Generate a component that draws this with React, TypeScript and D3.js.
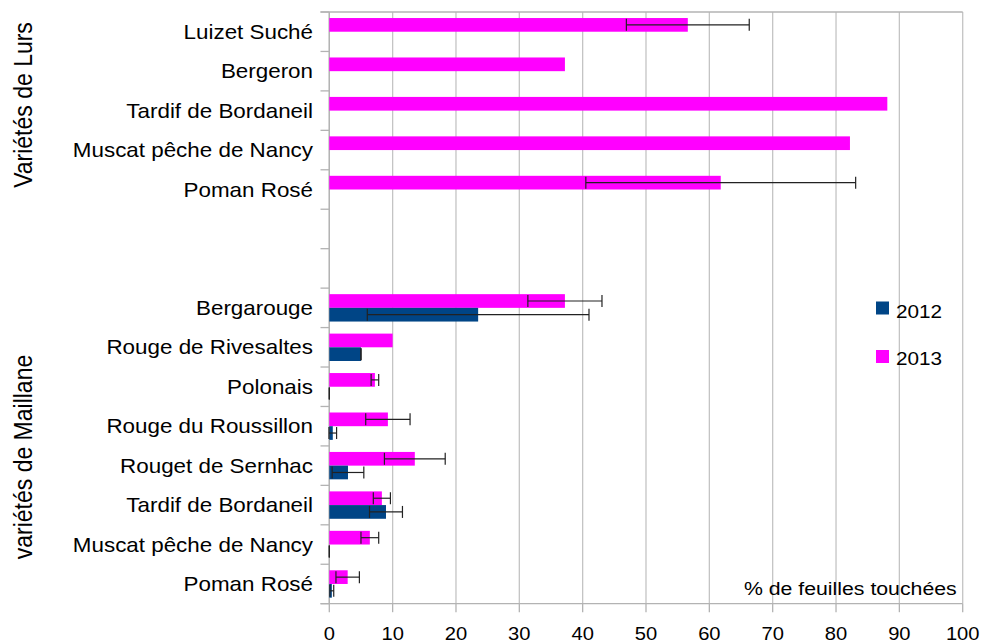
import React from "react";
import * as d3 from "d3";

const lursCategories = ["Luizet Suché", "Bergeron", "Tardif de Bordaneil", "Muscat pêche de Nancy", "Poman Rosé"];
const lurs2013 = [56.6, 37.2, 88.1, 82.2, 61.8];
const lurs2013Err: (number | null)[] = [9.7, null, null, null, 21.3];

const maillaneCategories = [
  "Bergarouge",
  "Rouge de Rivesaltes",
  "Polonais",
  "Rouge du Roussillon",
  "Rouget de Sernhac",
  "Tardif de Bordaneil",
  "Muscat pêche de Nancy",
  "Poman Rosé",
];
const maillane2012 = [23.5, 5.0, 0, 0.55, 2.95, 8.95, 0, 0.4];
const maillane2012Err: (number | null)[] = [17.5, 0, 0, 0.6, 2.5, 2.6, 0, 0.3];
const maillane2013 = [37.2, 10.0, 7.2, 9.25, 13.5, 8.3, 6.4, 2.9];
const maillane2013Err: (number | null)[] = [5.85, null, 0.6, 3.5, 4.8, 1.35, 1.4, 1.85];

const seriesNames = ["2012", "2013"];
const seriesColors = ["#004586", "#ff00ff"];
const groupLabels = ["Variétés de Lurs", "variétés de Maillane"];
const xTicks = [0, 10, 20, 30, 40, 50, 60, 70, 80, 90, 100];
const xAxisTitle = "% de feuilles touchées";

const W = 983;
const H = 641;
const FONT = "'Liberation Sans', Arial, Helvetica, sans-serif";
const SX = 1.12;

type Row = { key: string; label: string; v2012: number | null; e2012: number | null; v2013: number | null; e2013: number | null };

const rows: Row[] = [
  ...lursCategories.map((c, i) => ({ key: "L" + i, label: c, v2012: null, e2012: null, v2013: lurs2013[i], e2013: lurs2013Err[i] })),
  { key: "gap1", label: "", v2012: null, e2012: null, v2013: null, e2013: null },
  { key: "gap2", label: "", v2012: null, e2012: null, v2013: null, e2013: null },
  ...maillaneCategories.map((c, i) => ({
    key: "M" + i,
    label: c,
    v2012: maillane2012[i],
    e2012: maillane2012Err[i],
    v2013: maillane2013[i],
    e2013: maillane2013Err[i],
  })),
];

function SText(props: { x: number; y: number; size: number; anchor?: string; rotate?: boolean; children: React.ReactNode }) {
  const { x, y, size, anchor = "start", rotate = false, children } = props;
  return (
    <text
      transform={`translate(${x},${y}) scale(${SX},1)${rotate ? " rotate(-90)" : ""}`}
      fontFamily={FONT}
      fontSize={size}
      textAnchor={anchor}
      fill="#000"
    >
      {children}
    </text>
  );
}

export default function App() {
  const x = d3.scaleLinear().domain([0, 100]).range([329.3, 962.7]);
  const y = d3.scaleBand<string>().domain(rows.map((r) => r.key)).range([12, 603.7]).padding(0);
  const inner = d3.scaleBand<string>().domain(["2013", "2012"]).range([0, y.bandwidth()]).paddingInner(0).paddingOuter(0.44);
  const bh = inner.bandwidth();
  const top = 12;
  const bottom = 603.7;
  const gridColor = "#c4c4c4";
  const axisColor = "#b3b3b3";
  const slotEdges = rows.map((r) => y(r.key) as number).concat([bottom]);

  const errBar = (key: string, v: number | null, e: number | null, cy: number) => {
    if (v == null || e == null) return null;
    const x0 = x(v - e);
    const x1 = x(v + e);
    const half = 6;
    return (
      <g key={key} stroke="#222" strokeWidth={1.2}>
        <line x1={x0} x2={x1} y1={cy} y2={cy} />
        <line x1={x0} x2={x0} y1={cy - half} y2={cy + half} />
        <line x1={x1} x2={x1} y1={cy - half} y2={cy + half} />
      </g>
    );
  };

  return (
    <svg width={W} height={H} style={{ position: "absolute", left: 0, top: 0, background: "#fff" }}>
      <rect x={0} y={0} width={W} height={H} fill="#fff" />
      {/* gridlines */}
      {xTicks.map((t) => (
        <line key={"g" + t} x1={x(t)} x2={x(t)} y1={top} y2={bottom} stroke={gridColor} strokeWidth={1.3} />
      ))}
      {/* top border */}
      <line x1={320.5} x2={x(100)} y1={top} y2={top} stroke={axisColor} strokeWidth={1.3} />
      {/* y axis ticks */}
      {slotEdges.map((e, i) => (
        <line key={"yt" + i} x1={320.5} x2={x(0)} y1={e} y2={e} stroke={axisColor} strokeWidth={1.3} />
      ))}
      {/* x axis */}
      <line x1={320.5} x2={x(100)} y1={bottom} y2={bottom} stroke={axisColor} strokeWidth={1.3} />
      <line x1={x(0)} x2={x(0)} y1={top} y2={bottom} stroke={axisColor} strokeWidth={1.3} />
      {xTicks.map((t) => (
        <line key={"xt" + t} x1={x(t)} x2={x(t)} y1={bottom} y2={bottom + 8.5} stroke={axisColor} strokeWidth={1.3} />
      ))}
      {/* bars */}
      {rows.map((r) => {
        const y0 = y(r.key) as number;
        const yp = y0 + (inner("2013") as number);
        const yb = y0 + (inner("2012") as number);
        return (
          <g key={"b" + r.key}>
            {r.v2013 != null && r.v2013 > 0 && (
              <rect x={x(0)} y={yp} width={x(r.v2013) - x(0)} height={bh} fill={seriesColors[1]} />
            )}
            {r.v2012 != null && r.v2012 > 0 && (
              <rect x={x(0)} y={yb} width={x(r.v2012) - x(0)} height={bh} fill={seriesColors[0]} />
            )}
          </g>
        );
      })}
      {/* error bars */}
      {rows.map((r) => {
        const y0 = y(r.key) as number;
        const yp = y0 + (inner("2013") as number) + bh / 2;
        const yb = y0 + (inner("2012") as number) + bh / 2;
        return (
          <g key={"e" + r.key}>
            {errBar("p", r.v2013, r.e2013, yp)}
            {errBar("b", r.v2012, r.e2012, yb)}
          </g>
        );
      })}
      {/* category labels */}
      {rows
        .filter((r) => r.label)
        .map((r) => (
          <SText key={"l" + r.key} x={313} y={(y(r.key) as number) + y.bandwidth() / 2 + 7.2} size={20} anchor="end">
            {r.label}
          </SText>
        ))}
      {/* group labels */}
      <SText x={32} y={105} size={23} anchor="middle" rotate>
        {groupLabels[0]}
      </SText>
      <SText x={32} y={457} size={23} anchor="middle" rotate>
        {groupLabels[1]}
      </SText>
      {/* x tick labels */}
      {xTicks.map((t) => (
        <SText key={"xl" + t} x={x(t)} y={640} size={18} anchor="middle">
          {String(t)}
        </SText>
      ))}
      {/* axis title */}
      <SText x={956.7} y={594.5} size={19} anchor="end">
        {xAxisTitle}
      </SText>
      {/* legend */}
      <rect x={876} y={301.5} width={13} height={13} fill={seriesColors[0]} />
      <SText x={896} y={317.5} size={18.5}>
        {seriesNames[0]}
      </SText>
      <rect x={876} y={350} width={13} height={13} fill={seriesColors[1]} />
      <SText x={896} y={364.5} size={18.5}>
        {seriesNames[1]}
      </SText>
    </svg>
  );
}
